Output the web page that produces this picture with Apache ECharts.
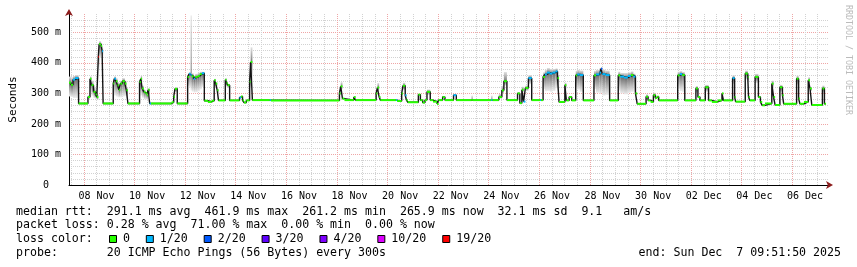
<!DOCTYPE html>
<html><head><meta charset="utf-8">
<script src="https://cdn.jsdelivr.net/npm/echarts@6/dist/echarts.min.js"></script>
<style>html,body{margin:0;padding:0;background:#fff}#c{width:857px;height:267px}</style>
</head><body><div id="c"></div>
<script>
// time in days of November (Dec 1 = 31), median RTT in ms
const times = [
7.41,7.49,7.57,7.65,7.79,
8.16,8.24,8.30,8.38,8.46,8.51,8.57,8.60,8.68,8.72,8.76,
9.16,9.20,9.27,9.33,9.38,9.44,9.52,9.62,9.68,9.74,
10.20,10.25,10.30,10.37,10.43,10.50,10.54,10.60,10.65,
11.47,11.55,11.60,11.69,
12.10,12.16,12.22,12.26,12.34,12.40,12.50,12.58,12.66,12.76,
12.90,13.05,13.15,13.21,13.27,13.32,13.59,13.64,13.68,13.76,
14.15,14.21,14.27,14.33,14.42,14.55,14.59,14.66,15.35,15.39,
18.10,18.15,18.22,18.30,18.67,18.74,
19.55,19.60,19.67,19.72,20.34,20.38,
20.56,20.61,20.70,20.75,20.80,21.22,21.30,21.39,21.48,21.56,21.69,21.80,21.96,22.02,22.18,22.27,22.61,22.72,
23.32,23.37,24.10,24.15,
24.40,24.52,24.60,24.72,
25.14,25.23,25.31,25.38,25.45,25.57,25.70,26.03,26.07,
26.15,26.22,26.30,26.42,26.52,26.64,26.72,26.78,
27.01,27.07,27.18,27.28,27.44,27.50,27.60,27.74,
28.16,28.24,28.38,28.44,28.49,28.62,28.78,
29.12,29.20,29.35,29.50,29.62,29.72,29.80,29.87,
30.22,30.30,30.40,30.51,30.59,30.66,30.72,
31.47,31.55,31.65,31.75,
32.19,32.27,32.35,32.56,32.69,32.82,33.05,33.22,33.28,
33.64,33.72,33.76,34.14,34.24,34.27,34.32,34.53,34.66,34.74,34.81,34.92,
35.19,35.26,35.32,35.51,35.61,35.66,36.17,36.25,36.30,36.46,
36.63,36.70,36.77,37.19,37.27,37.33
];
const median = [
335,328,345,350,267,
288,348,327,305,296,288,420,461,455,438,267,
332,348,340,327,312,332,340,332,310,267,
337,348,316,305,300,294,312,267,267,
271,289,315,267,
354,364,360,356,348,354,357,363,366,276,
272,276,343,332,310,277,345,334,327,277,
286,290,277,270,277,338,403,278,278,277,
300,323,283,278,288,278,
300,319,288,278,278,275,
300,325,294,278,271,296,278,270,278,305,278,273,265,278,288,278,294,278,
278,278,278,278,
288,310,340,278,
300,268,312,273,318,350,278,278,278,
354,362,368,365,368,372,350,272,
327,277,288,277,359,362,360,277,
359,362,368,381,363,360,277,
359,355,352,357,360,355,300,266,
289,277,272,294,285,289,277,
359,363,360,277,
316,288,277,320,277,272,277,300,277,
350,288,273,365,354,288,277,354,288,272,261,267,
332,288,262,320,294,266,348,283,266,272,
343,316,262,316,266,266
];
// packets lost out of 20 for each step
const loss = [
0,0,1,1,0,
0,0,0,0,0,0,19,0,0,1,0,
0,1,0,0,0,0,0,0,0,0,
0,0,0,0,0,0,0,1,0,
0,0,0,0,
0,1,1,0,1,0,0,0,1,0,
0,0,0,0,0,0,0,0,0,0,
1,0,0,0,0,0,0,0,1,0,
0,0,0,0,0,0,
0,0,0,0,1,0,
0,0,1,0,0,0,0,0,0,0,0,0,0,0,0,0,1,0,
0,0,1,0,
0,0,0,0,
0,0,0,1,0,1,0,1,0,
0,1,1,1,1,1,0,0,
0,0,0,0,0,1,1,0,
0,1,1,2,1,1,0,
0,1,1,1,0,1,0,0,
0,0,0,0,0,0,0,
0,1,0,0,
0,0,0,0,0,0,0,0,0,
1,0,0,0,0,0,0,0,0,0,0,0,
0,0,0,0,0,0,0,0,0,0,
0,0,0,0,0,0
];
// smoke spread above / below the median (ms)
const smokeUp = [
20,25,12,10,1,
6,8,15,15,10,10,20,10,10,10,1,
10,8,10,10,10,10,10,10,8,1,
8,10,10,8,5,5,5,1,1,
1,3,5,1,
5,5,195,10,10,10,10,8,5,1,
1,1,5,5,5,1,5,5,5,1,
3,3,1,1,1,8,48,2,1,1,
3,14,2,1,3,1,
3,15,3,1,1,1,
3,10,3,1,1,3,1,1,1,8,1,1,1,1,3,1,3,1,
15,1,15,1,
10,15,30,1,
3,1,10,1,8,10,1,1,1,
15,15,15,15,12,10,10,1,
8,1,3,1,15,15,15,1,
15,15,15,5,15,15,1,
12,12,15,12,12,10,3,1,
8,1,1,8,3,3,1,
12,10,10,1,
8,3,1,8,1,1,1,3,1,
10,3,1,10,8,3,1,10,3,1,1,1,
10,3,1,8,3,1,10,3,1,1,
10,5,1,10,1,1
];
const smokeDown = [
45,40,60,65,1,
6,45,35,20,15,10,40,45,25,20,1,
40,55,50,40,25,45,50,40,25,1,
45,55,30,25,20,15,20,1,1,
1,5,10,1,
30,45,50,50,45,50,50,50,45,1,
1,1,20,15,10,1,20,15,10,1,
3,3,1,1,1,20,60,1,1,1,
5,10,2,1,3,1,
5,10,3,1,1,1,
5,15,3,1,1,3,1,1,1,10,1,1,1,1,3,1,3,1,
1,1,1,1,
5,10,15,1,
5,1,10,1,10,20,1,1,1,
40,55,60,60,60,55,40,1,
15,1,3,1,40,50,55,1,
45,60,70,80,70,65,1,
50,55,55,55,55,50,5,1,
10,1,1,10,3,3,1,
45,55,55,1,
15,3,1,15,1,1,1,5,1,
20,3,1,20,15,3,1,20,3,1,1,1,
15,3,1,15,3,1,20,3,1,1,
20,10,1,15,1,1
];
const lossLevels = [0, 1, 2, 3, 4, 10, 19];
const lossLabels = ['0', '1/20', '2/20', '3/20', '4/20', '10/20', '19/20'];
const lossColors = ['#26ff00', '#00b8ff', '#0059ff', '#5e00ff', '#7e00ff', '#dd00ff', '#ff0000'];
const labelDays = [8.5,10.5,12.5,14.5,16.5,18.5,20.5,22.5,24.5,26.5,28.5,30.5,32.5,34.5,36.5];
const labelText = ['08 Nov','10 Nov','12 Nov','14 Nov','16 Nov','18 Nov','20 Nov','22 Nov','24 Nov','26 Nov','28 Nov','30 Nov','02 Dec','04 Dec','06 Dec'];
const majorDays = [8,10,12,14,16,18,20,22,24,26,28,30,32,34,36];
const minorDays = [7.5,8.5,9,9.5,10.5,11,11.5,12.5,13,13.5,14.5,15,15.5,16.5,17,17.5,18.5,19,19.5,20.5,21,21.5,22.5,23,23.5,24.5,25,25.5,26.5,27,27.5,28.5,29,29.5,30.5,31,31.5,32.5,33,33.5,34.5,35,35.5,36.5,37];
const yTicks = [0,100,200,300,400,500];

const legendLines = [
  'median rtt:  291.1 ms avg  461.9 ms max  261.2 ms min  265.9 ms now  32.1 ms sd  9.1   am/s',
  'packet loss: 0.28 % avg  71.00 % max  0.00 % min  0.00 % now',
  'loss color:',
  'probe:       20 ICMP Echo Pings (56 Bytes) every 300s'
];
const endText = 'end: Sun Dec  7 09:51:50 2025';

function lossColor(l) {
  let c = lossColors[0];
  for (let i = 0; i < lossLevels.length; i++) if (l >= lossLevels[i]) c = lossColors[i];
  return c;
}
const segs = times.slice(0, -1).map((t, i) => [t, times[i + 1], median[i], loss[i], smokeUp[i], smokeDown[i]]);

const MONO = '"DejaVu Sans Mono", monospace';
const chart = echarts.init(document.getElementById('c'), null, {renderer: 'canvas'});

const graphics = [];
const lineY = [211.5, 225, 239, 253];
legendLines.forEach((s, i) => graphics.push({type: 'text', x: 16, y: lineY[i], style: {text: s, font: '11.6px ' + MONO, fill: '#000', textVerticalAlign: 'middle'}}));
graphics.push({type: 'text', x: 841, y: lineY[3], style: {text: endText, font: '11.6px ' + MONO, fill: '#000', textAlign: 'right', textVerticalAlign: 'middle'}});
let bx = 109;
lossLabels.forEach((lab, i) => {
  graphics.push({type: 'rect', shape: {x: bx + 0.5, y: 235.5, width: 7, height: 7}, style: {fill: lossColors[i], stroke: '#000', lineWidth: 1}});
  graphics.push({type: 'text', x: bx + 14, y: lineY[2], style: {text: lab, font: '11.6px ' + MONO, fill: '#000', textVerticalAlign: 'middle'}});
  bx = bx + 14 + lab.length * 7.02 + 15.8;
});
graphics.push({type: 'text', x: 848, y: 5, rotation: -Math.PI / 2, style: {text: 'RRDTOOL / TOBI OETIKER', font: '8.3px ' + MONO, fill: '#bbbbbb', textVerticalAlign: 'middle'}});

const gray = '#d2d2d2', red = '#efa6a6', arrowRed = '#8c1c1c';

chart.setOption({
  animation: false,
  backgroundColor: '#fff',
  grid: {left: 67, right: 29, top: 14, bottom: 82, containLabel: false},
  xAxis: [{
    type: 'value', min: 7.411, max: 37.411, z: 1,
    axisLine: {show: true, onZero: false, lineStyle: {color: '#000', width: 1}},
    axisTick: {show: false},
    splitLine: {show: false},
    axisLabel: {customValues: labelDays, formatter: v => labelText[labelDays.indexOf(v)], fontFamily: MONO, fontSize: 10, color: '#000', margin: 6}
  }, {
    type: 'value', min: 7.411, max: 37.411, position: 'bottom', z: 2,
    axisLine: {show: true, onZero: false, symbol: ['none', 'arrow'], symbolSize: [6, 7], symbolOffset: [0, 5], lineStyle: {color: arrowRed, width: 0}},
    axisTick: {show: false}, axisLabel: {show: false}, splitLine: {show: false}
  }],
  yAxis: [{
    type: 'value', min: 0, max: 560, interval: 100, z: 1,
    name: 'Seconds', nameLocation: 'middle', nameGap: 50, nameRotate: 90,
    nameTextStyle: {fontFamily: MONO, fontSize: 11, color: '#000'},
    axisLine: {show: true, lineStyle: {color: '#000', width: 1}},
    axisTick: {show: false},
    axisLabel: {customValues: yTicks, formatter: v => v === 0 ? '0  ' : v + ' m', fontFamily: MONO, fontSize: 10, color: '#000', margin: 8},
    splitLine: {show: true, showMaxLine: false, lineStyle: {color: red, type: [1, 1], width: 1}}
  }, {
    type: 'value', min: 0, max: 560, interval: 20, z: 0, position: 'left',
    axisLine: {show: false}, axisTick: {show: false}, axisLabel: {show: false},
    splitLine: {show: true, showMaxLine: false, lineStyle: {color: gray, type: [1, 1], width: 1}}
  }, {
    type: 'value', min: 0, max: 560, z: 2, position: 'left',
    axisLine: {show: true, symbol: ['none', 'arrow'], symbolSize: [6, 7], symbolOffset: [0, 5], lineStyle: {color: arrowRed, width: 0}},
    axisTick: {show: false}, axisLabel: {show: false}, splitLine: {show: false}
  }],
  graphic: graphics,
  series: [
    {
      type: 'line', data: [], z: 1, silent: true,
      markLine: {
        silent: true, symbol: ['none', 'none'], z: 1, animation: false,
        label: {show: false},
        data: minorDays.map(d => ({xAxis: d, lineStyle: {color: gray, type: [1, 1], width: 1}}))
          .concat(majorDays.map(d => ({xAxis: d, lineStyle: {color: red, type: [1, 1], width: 1}})))
      }
    },
    {
      type: 'custom', z: 2, silent: true, data: segs, encode: {x: [0, 1], y: 2},
      renderItem: (params, api) => {
        const t0 = api.value(0), t1 = api.value(1), m = api.value(2), up = api.value(4), dn = api.value(5);
        const pT = api.coord([t0, m + up]), pM = api.coord([t1, m]), pB = api.coord([t0, m - dn]);
        const x0 = pT[0], w = Math.max(1, pM[0] - x0);
        return {type: 'group', children: [
          {type: 'rect', shape: {x: x0, y: pT[1], width: w, height: pM[1] - pT[1]},
           style: {fill: new echarts.graphic.LinearGradient(0, 0, 0, 1, [{offset: 0, color: '#e2e2e2'}, {offset: 1, color: '#7a7a7a'}])}},
          {type: 'rect', shape: {x: x0, y: pM[1], width: w, height: pB[1] - pM[1]},
           style: {fill: new echarts.graphic.LinearGradient(0, 0, 0, 1, [{offset: 0, color: '#6a6a6a'}, {offset: 1, color: '#ececec'}])}}
        ]};
      }
    },
    {
      type: 'line', step: 'end', z: 3, silent: true, showSymbol: false,
      data: times.map((t, i) => [t, median[i]]),
      lineStyle: {color: '#151515', width: 1.4}
    },
    {
      type: 'custom', z: 4, silent: true, data: segs, encode: {x: [0, 1], y: 2},
      renderItem: (params, api) => {
        const a = api.coord([api.value(0), api.value(2)]), b = api.coord([api.value(1), api.value(2)]);
        return {type: 'line', shape: {x1: a[0], y1: a[1], x2: b[0], y2: b[1]}, style: {stroke: lossColor(api.value(3)), lineWidth: 2}};
      }
    }
  ]
});
</script></body></html>
